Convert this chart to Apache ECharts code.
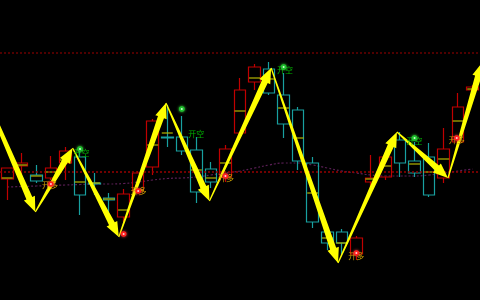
<!DOCTYPE html>
<html><head><meta charset="utf-8">
<script src="https://cdn.jsdelivr.net/npm/echarts@6/dist/echarts.min.js"></script>
<style>html,body{margin:0;background:#000;overflow:hidden}#c{width:480px;height:300px}</style>
</head><body><div id="c"></div>
<script>
const categories = Array.from({length: 33}, (_, i) => 'K' + (i + 1));
const opens  = [121,134,125,122,137,143,117,102, 83,109,133,163,163,150,131,123,167,218,231,205,190,137, 68, 68, 46,118,123,160,139,143,122,158,210];
const closes = [132,137,119,132,149,105,116,100,106,127,179,162,149,108,118,151,210,233,207,176,139, 78, 57, 57, 62,122,143,137,127,105,151,193,213];
const lows   = [100,125,117,120,120, 85,105, 88, 78,107,125,153,145, 97,112,118,165,210,205,162,130, 72, 50, 45, 40,107,120,123,123,103,117,155,205];
const highs  = [132,147,135,144,153,150,127,107,111,129,181,195,184,163,138,155,222,236,238,227,193,143, 70, 71, 64,145,145,168,158,157,172,207,215];
const marks  = [122,135,124,128,140,118,117,101, 90,110,155,167,null,130,122,137,189,222,221,192,162,107, 62, 57,null,121,134,null,136,128,141,179,211];
const maLine = [113,113.5,114,114.5,115,115.5,116,116,116.5,118,120,121.5,122,123,125,127,129,132,135,137,137,135,132,129,127,125,124,124,124,125,127,129,131];
const levelHigh = 247;
const levelLow = 128;
// zigzag vertices [bar index, price]
const zigzag = [[-3.1,257],[1.93,88],[4.49,152],[7.67,63],[10.91,197],[13.9,99],[18.14,232],[22.74,37],[26.79,168],[30.3,122],[32.67,238]];
const shortDots = [[5,151],[12,191],[19,233],[28,162]];
const shortLabels = [[5.1,147],[13.0,166],[19.1,230],[28.0,159]];
const longDots = [[3,116],[8,66],[9,109],[15,124],[24,47],[30.9,162]];
const longLabels = [[2.94,115],[9.02,109],[15.03,122],[24.0,44],[30.9,160]];

const candleData = opens.map((o, i) => [o, closes[i], lows[i], highs[i]]);
const markData = marks.map((m, i) => m == null ? null : [i, m]).filter(Boolean);
const segs = [];
for (let i = 0; i < zigzag.length - 1; i++) segs.push([zigzag[i][0], zigzag[i][1], zigzag[i + 1][0], zigzag[i + 1][1]]);

const chart = echarts.init(document.getElementById('c'), null, {renderer: 'canvas'});
chart.setOption({
  backgroundColor: '#000',
  animation: false,
  grid: {left: -1, width: 488.4, top: 0, bottom: 0},
  xAxis: [
    {type: 'category', data: categories, show: false, boundaryGap: true},
    {type: 'value', min: -0.5, max: 32.5, show: false}
  ],
  yAxis: {type: 'value', min: 0, max: 300, show: false, splitLine: {show: false}},
  series: [
    {
      type: 'line', data: maLine, xAxisIndex: 0, symbol: 'none', smooth: true, z: 1,
      lineStyle: {color: '#5a1f55', width: 1.2, type: [2, 2]},
      markLine: {
        silent: true, symbol: 'none', label: {show: false},
        data: [
          {yAxis: levelHigh, lineStyle: {color: '#6a0000', width: 1.5, type: [2, 2]}},
          {yAxis: levelLow, lineStyle: {color: '#960000', width: 1.5, type: [2, 2]}}
        ]
      }
    },
    {
      type: 'candlestick', data: candleData, xAxisIndex: 0, barWidth: 12, z: 2,
      itemStyle: {color: 'transparent', color0: 'transparent', borderColor: '#c00000', borderColor0: '#18a0a0', borderWidth: 1.2}
    },
    {
      type: 'scatter', data: markData, xAxisIndex: 0, symbol: 'rect', symbolSize: [11, 1.5], z: 3,
      itemStyle: {color: '#b4b400'}
    },
    {
      type: 'custom', xAxisIndex: 1, data: segs, clip: false, z: 5,
      renderItem: function (params, api) {
        const p0 = api.coord([api.value(0), api.value(1)]);
        const p1 = api.coord([api.value(2), api.value(3)]);
        const dx = p1[0] - p0[0], dy = p1[1] - p0[1];
        const L = Math.hypot(dx, dy);
        const ux = dx / L, uy = dy / L, nx = -uy, ny = ux;
        const headLen = 15, headW = 6, w0 = 0.6, w1 = 3.2;
        const bx = p1[0] - ux * headLen, by = p1[1] - uy * headLen;
        const pts = [
          [p0[0] + nx * w0, p0[1] + ny * w0],
          [bx + nx * w1, by + ny * w1],
          [bx + nx * headW, by + ny * headW],
          [p1[0], p1[1]],
          [bx - nx * headW, by - ny * headW],
          [bx - nx * w1, by - ny * w1],
          [p0[0] - nx * w0, p0[1] - ny * w0]
        ];
        return {type: 'polygon', shape: {points: pts}, style: {fill: '#ffff00'}};
      }
    },
    {
      type: 'custom', xAxisIndex: 1, data: shortLabels, z: 6,
      renderItem: function (params, api) {
        const p = api.coord([api.value(0), api.value(1)]);
        return {type: 'text', style: {text: '开空', x: p[0], y: p[1], align: 'center', verticalAlign: 'middle', fill: '#00b400', font: '8px "Noto Sans CJK SC"'}};
      }
    },
    {
      type: 'custom', xAxisIndex: 1, data: longLabels, z: 6,
      renderItem: function (params, api) {
        const p = api.coord([api.value(0), api.value(1)]);
        return {type: 'text', style: {text: '开多', x: p[0], y: p[1], align: 'center', verticalAlign: 'middle', fill: '#c8a000', font: '8px "Noto Sans CJK SC"'}};
      }
    },
    {
      type: 'custom', xAxisIndex: 1, data: shortDots, z: 7,
      renderItem: function (params, api) {
        const p = api.coord([api.value(0), api.value(1)]);
        return {type: 'group', children: [
          {type: 'circle', shape: {cx: p[0], cy: p[1], r: 2.8}, style: {fill: '#1fc02f', shadowBlur: 3, shadowColor: '#40ff40'}},
          {type: 'circle', shape: {cx: p[0], cy: p[1], r: 1}, style: {fill: '#d0ffd0'}}
        ]};
      }
    },
    {
      type: 'custom', xAxisIndex: 1, data: longDots, z: 7,
      renderItem: function (params, api) {
        const p = api.coord([api.value(0), api.value(1)]);
        return {type: 'group', children: [
          {type: 'circle', shape: {cx: p[0], cy: p[1], r: 2.8}, style: {fill: '#ff2020', shadowBlur: 3, shadowColor: '#ff4040'}},
          {type: 'circle', shape: {cx: p[0], cy: p[1], r: 1}, style: {fill: '#ffd0d0'}}
        ]};
      }
    }
  ]
});
</script>
</body></html>
